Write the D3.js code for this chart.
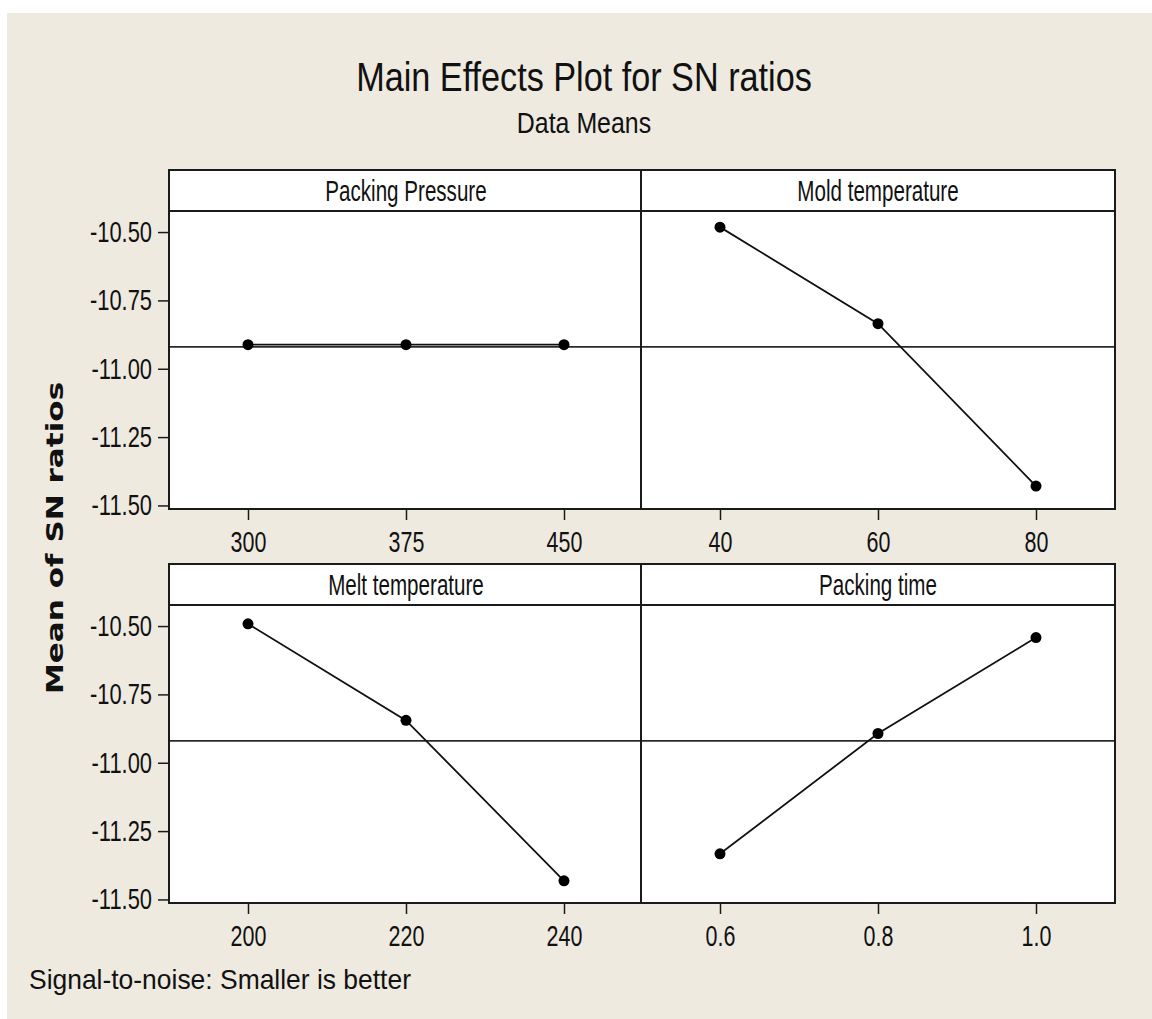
<!DOCTYPE html>
<html>
<head>
<meta charset="utf-8">
<script src="https://cdn.jsdelivr.net/npm/d3@7"></script>
<style>
body { margin: 0; background: #fff; }
svg text { fill: #111; font-family: "Liberation Sans", Arial, sans-serif; }
</style>
</head>
<body>
<div id="chart"></div>
<script>
// main effects data, one entry per factor
var factors = ["Packing Pressure", "Mold temperature", "Melt temperature", "Packing time"];
var levels = [["300", "375", "450"], ["40", "60", "80"], ["200", "220", "240"], ["0.6", "0.8", "1.0"]];
var snMeans = [
  [-10.912, -10.912, -10.912],
  [-10.482, -10.835, -11.429],
  [-10.492, -10.845, -11.432],
  [-11.333, -10.893, -10.542]
];
var overallMean = -10.92;
var yTicks = [-10.50, -10.75, -11.00, -11.25, -11.50];

var W = 1152, H = 1019;

// panel grid
var colX = [169, 641], colW = 474;
var rowY = [170, 564], stripH = 41, plotH = 298;

var svg = d3.select("#chart")
    .append("svg")
    .attr("width", W)
    .attr("height", H);

// beige background like the minitab window
svg.append("rect")
    .attr("x", 7).attr("y", 13)
    .attr("width", W - 7).attr("height", H - 13)
    .attr("fill", "#eeeae0");

// squeeze text horizontally, the original picture is stretched vertically
function squeeze(sel, k) {
  sel.each(function() {
    var w = this.getComputedTextLength();
    d3.select(this)
        .attr("textLength", w * k)
        .attr("lengthAdjust", "spacingAndGlyphs");
  });
}

// titles
svg.append("text")
    .attr("x", 584).attr("y", 91)
    .attr("text-anchor", "middle")
    .style("font-size", "40px")
    .text("Main Effects Plot for SN ratios")
    .call(squeeze, 0.855);

svg.append("text")
    .attr("x", 584).attr("y", 133)
    .attr("text-anchor", "middle")
    .style("font-size", "30px")
    .text("Data Means")
    .call(squeeze, 0.83);

var y = d3.scaleLinear().domain([-11.513, -10.423]).range([plotH, 0]);

var line = d3.line()
    .x(function(d) { return d.x; })
    .y(function(d) { return y(d.v); });

factors.forEach(function(name, i) {
  var col = i % 2, row = Math.floor(i / 2);
  var g = svg.append("g")
      .attr("transform", "translate(" + colX[col] + "," + rowY[row] + ")");

  var x = d3.scalePoint().domain(levels[i]).range([0, colW]).padding(0.5);

  // strip with factor name
  g.append("rect")
      .attr("width", colW).attr("height", stripH)
      .attr("fill", "#fff");
  g.append("text")
      .attr("x", colW / 2).attr("y", 31)
      .attr("text-anchor", "middle")
      .style("font-size", "29px")
      .text(name)
      .call(squeeze, 0.71);

  var p = g.append("g").attr("transform", "translate(0," + stripH + ")");

  p.append("rect")
      .attr("width", colW).attr("height", plotH)
      .attr("fill", "#fff");

  // reference line at the overall mean
  p.append("line")
      .attr("x1", 0).attr("x2", colW)
      .attr("y1", y(overallMean)).attr("y2", y(overallMean))
      .attr("stroke", "#2a2a2a")
      .attr("stroke-width", 1.6);

  var pts = levels[i].map(function(l, j) { return {x: x(l), v: snMeans[i][j]}; });

  p.append("path")
      .datum(pts)
      .attr("d", line)
      .attr("fill", "none")
      .attr("stroke", "#111")
      .attr("stroke-width", 1.8);

  p.selectAll(".pt")
      .data(pts)
    .enter().append("circle")
      .attr("class", "pt")
      .attr("cx", function(d) { return d.x; })
      .attr("cy", function(d) { return y(d.v); })
      .attr("r", 5.5)
      .attr("fill", "#000");

  // borders
  g.append("rect")
      .attr("width", colW).attr("height", stripH + plotH)
      .attr("fill", "none")
      .attr("stroke", "#1a1a1a").attr("stroke-width", 2);
  g.append("line")
      .attr("x1", 0).attr("x2", colW)
      .attr("y1", stripH).attr("y2", stripH)
      .attr("stroke", "#1a1a1a").attr("stroke-width", 2);

  // x axis
  var xa = p.append("g")
      .attr("transform", "translate(0," + plotH + ")")
      .call(d3.axisBottom(x).tickSize(11).tickPadding(11));
  xa.select(".domain").remove();
  xa.selectAll("line").attr("stroke", "#1a1a1a").attr("stroke-width", 1.5);
  xa.selectAll("text")
      .style("font-size", "29px")
      .attr("fill", "#111")
      .call(squeeze, 0.74);

  // y axis on the left column only
  if (col === 0) {
    var ya = p.append("g")
        .call(d3.axisLeft(y)
            .tickValues(yTicks)
            .tickFormat(function(d) { return d.toFixed(2); })
            .tickSize(11).tickPadding(6));
    ya.select(".domain").remove();
    ya.selectAll("line").attr("stroke", "#1a1a1a").attr("stroke-width", 1.5);
    ya.selectAll("text")
        .style("font-size", "29px")
        .attr("fill", "#111")
        .call(squeeze, 0.755);
  }
});

// y axis title
svg.append("text")
    .attr("transform", "translate(63,538) rotate(-90)")
    .attr("text-anchor", "middle")
    .style("font-family", "'DejaVu Sans', sans-serif")
    .style("font-weight", "bold")
    .style("font-size", "23px")
    .text("Mean of SN ratios")
    .call(squeeze, 1.35);

// footnote
svg.append("text")
    .attr("x", 29).attr("y", 989)
    .style("font-size", "28px")
    .text("Signal-to-noise: Smaller is better")
    .call(squeeze, 0.944);
</script>
</body>
</html>
